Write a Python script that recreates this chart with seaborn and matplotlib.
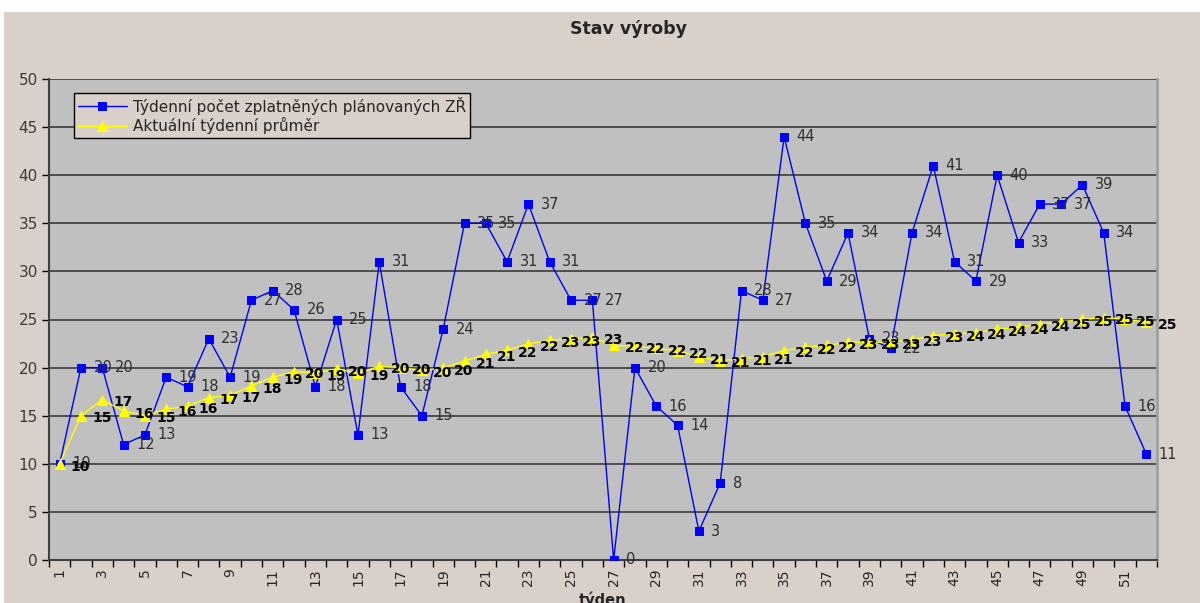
import matplotlib
matplotlib.use("Agg")
import matplotlib.pyplot as plt
from matplotlib.patches import Rectangle
import numpy as np
import pandas as pd
import seaborn as sns

TITLE = "Stav výroby"
X_LABEL = "týden"
WEEKLY_LABEL = "Týdenní počet zplatněných plánovaných ZŘ"
AVG_LABEL = "Aktuální týdenní průměr"

weeks = list(range(1, 53))
weekly_count = [10, 20, 20, 12, 13, 19, 18, 23, 19, 27, 28, 26, 18, 25, 13, 31,
                18, 15, 24, 35, 35, 31, 37, 31, 27, 27, 0, 20, 16, 14, 3, 8,
                28, 27, 44, 35, 29, 34, 23, 22, 34, 41, 31, 29, 40, 33, 37, 37,
                39, 34, 16, 11]
running_avg = [10.0, 15.0, 16.67, 15.5, 15.0, 15.67, 16.0, 16.88, 17.11, 18.1,
               19.0, 19.58, 19.46, 19.86, 19.4, 20.13, 20.0, 19.72, 19.95, 20.7,
               21.38, 21.82, 22.48, 22.83, 23.0, 23.15, 22.3, 22.21, 22.0, 21.73,
               21.13, 20.72, 20.94, 21.12, 21.77, 22.14, 22.32, 22.63, 22.64, 22.63,
               22.9, 23.33, 23.51, 23.64, 24.0, 24.2, 24.47, 24.73, 25.02, 25.2,
               25.02, 24.75]
y_ticks = list(range(0, 51, 5))
x_tick_labels = [str(w) for w in weeks if w % 2 == 1]

BEIGE = "#d9d0ca"
PLOT_BG = "#c0c0c0"

df = pd.DataFrame({"week": weeks, "count": weekly_count, "avg": running_avg})

sns.set_style("white")
plt.rcParams["font.family"] = ["DejaVu Sans"]

fig = plt.figure(figsize=(12, 6.03), dpi=100, facecolor="white")
fig.add_artist(Rectangle((4 / 1200, 0), 1, 1 - 12 / 603, transform=fig.transFigure,
                         facecolor=BEIGE, edgecolor="none", zorder=-10))
ax = fig.add_axes([49 / 1200, 1 - 560 / 603, 1108 / 1200, 481 / 603])
ax.set_facecolor(PLOT_BG)

sns.lineplot(data=df, x="week", y="count", ax=ax, color="#0000ff", linewidth=1.0,
             marker="s", markersize=6, markeredgecolor="#0000ff",
             label=WEEKLY_LABEL, zorder=3)
sns.lineplot(data=df, x="week", y="avg", ax=ax, color="#ffff00", linewidth=1.0,
             marker="^", markersize=7, markeredgecolor="#ffff00",
             label=AVG_LABEL, zorder=4)

# data labels, like the spreadsheet original
for w, v in zip(df["week"], df["count"]):
    ax.annotate(str(v), (w, v), xytext=(9, 0), textcoords="offset points",
                ha="left", va="center", fontsize=10.5, color="#303030", zorder=5)
for w, v in zip(df["week"], df["avg"]):
    ax.annotate(f"{v:.0f}", (w, v), xytext=(8, -2), textcoords="offset points",
                ha="left", va="center", fontsize=10, fontweight="bold",
                color="black", zorder=6, annotation_clip=False)

ax.set_xlim(0.5, 52.5)
ax.set_ylim(0, 50)
ax.set_yticks(y_ticks)
ax.grid(axis="y", color="#3a3a3a", linewidth=1.2, zorder=1)
ax.set_axisbelow(True)

ax.set_xticks([w for w in weeks if w % 2 == 1])
ax.set_xticklabels(x_tick_labels, rotation=90)
ax.set_xticks(np.arange(0.5, 53, 1), minor=True)
ax.tick_params(axis="x", which="major", length=0, pad=6, labelsize=10, labelcolor="#262626")
ax.tick_params(axis="x", which="minor", length=5, width=1, color="black", direction="out")
ax.tick_params(axis="y", length=5, width=1, color="black", direction="out",
               pad=3, labelsize=11, labelcolor="#3a3a3a")
ax.tick_params(bottom=True, left=True, which="both")

ax.set_xlabel(X_LABEL, fontsize=10.5, fontweight="bold", labelpad=4)
ax.set_ylabel("")

for side in ["left", "bottom"]:
    ax.spines[side].set_color("#404040")
    ax.spines[side].set_linewidth(1.5)
ax.spines["right"].set_color("#a0a0a0")
ax.spines["right"].set_linewidth(2)
ax.spines["top"].set_visible(False)

leg = ax.legend(loc="upper left", bbox_to_anchor=(25 / 1108, 1 - 14 / 481),
                fontsize=11, frameon=True, fancybox=False, framealpha=1,
                facecolor=BEIGE, edgecolor="black", borderpad=0.25,
                labelspacing=0.15, handlelength=3.2, handletextpad=0.4,
                borderaxespad=0)
leg.get_frame().set_linewidth(1)

fig.text(628 / 1200, 1 - 29 / 603, TITLE, ha="center", va="center",
         fontsize=12.5, fontweight="bold")

fig.savefig("out.png", dpi=100, facecolor="white")
